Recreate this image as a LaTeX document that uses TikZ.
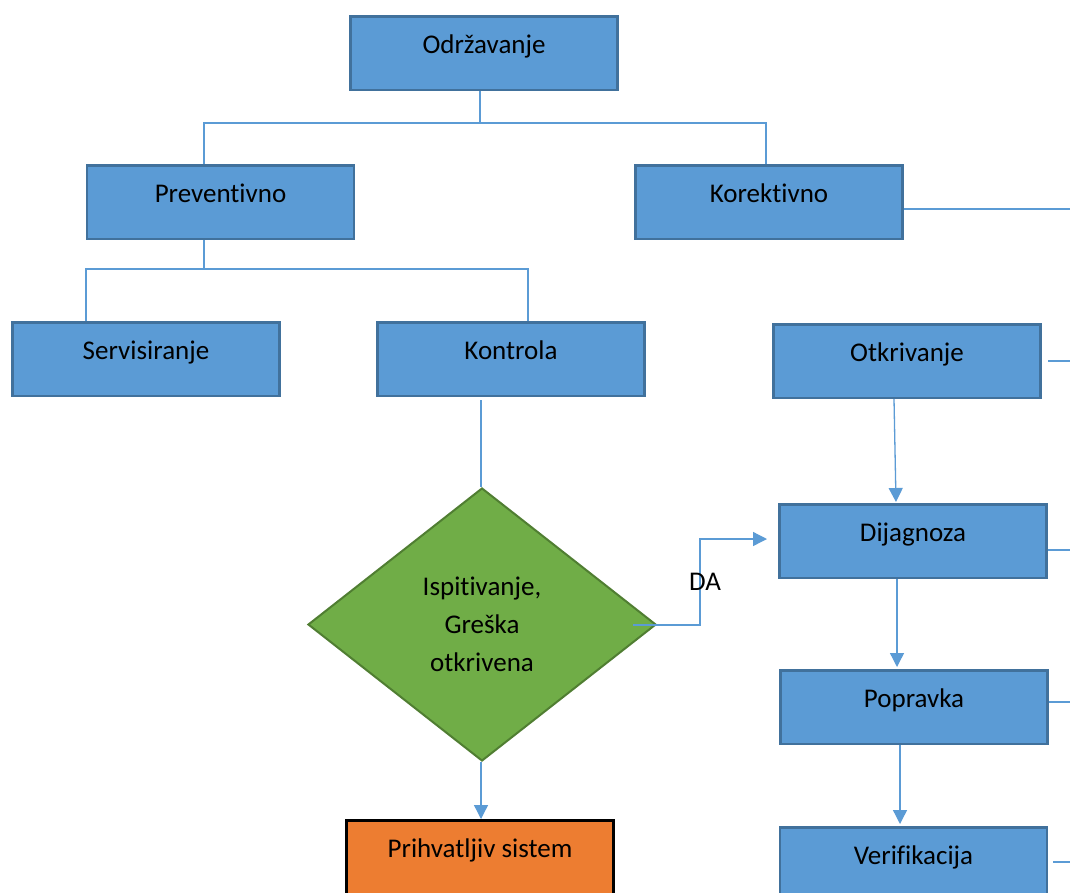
\documentclass[tikz,border=0pt]{standalone}
\usepackage{fontspec}
\setmainfont{Carlito}[RawFeature={-liga;-clig;-calt;-dlig}]
\usetikzlibrary{shapes.geometric,arrows.meta}
\definecolor{boxfill}{HTML}{5B9BD5}
\definecolor{boxedge}{HTML}{41719C}
\definecolor{linkcol}{HTML}{5B9BD5}
\definecolor{decfill}{HTML}{70AD47}
\definecolor{decedge}{HTML}{507E32}
\definecolor{okfill}{HTML}{ED7D31}
\begin{document}
\begin{tikzpicture}[x=1pt,y=-1pt,
  box/.style={rectangle, draw=boxedge, fill=boxfill, line width=2.5pt,
    minimum width=267pt, inner xsep=0pt, inner ysep=0pt,
    text height=37pt, text depth=36.5pt, anchor=north,
    font=\fontsize{27}{32}\selectfont},
  okbox/.style={box, draw=black, fill=okfill},
  decision/.style={diamond, draw=decedge, fill=decfill, line width=2pt,
    minimum width=348pt, minimum height=273pt, inner sep=0pt, align=center,
    font=\fontsize{27}{38}\selectfont},
  link/.style={draw=linkcol, line width=1.3pt},
  arrowlink/.style={link, -{Triangle[length=14pt,width=14pt]}},
  lbl/.style={font=\fontsize{27}{32}\selectfont, inner sep=0pt}]

\fill[white] (0,0) rectangle (1070,892);
\useasboundingbox (0,0) rectangle (1070,892);
\clip (0,0) rectangle (1070,892);

% boxes
\node[box] (odr)  at (484,15)   {Održavanje};
\node[box] (prev) at (220.5,164) {Preventivno};
\node[box] (kor)  at (769,164)  {Korektivno};
\node[box] (serv) at (146,321)  {Servisiranje};
\node[box] (kon)  at (511,321)  {Kontrola};
\node[box] (otk)  at (907,323)  {Otkrivanje};
\node[box] (dij)  at (913,503)  {Dijagnoza};
\node[box] (pop)  at (914,669)  {Popravka};
\node[box] (ver)  at (913.5,826) {Verifikacija};
\node[okbox] (prih) at (480,819) {Prihvatljiv sistem};
\node[decision] (isp) at (482,624.5) {Ispitivanje,\\Greška\\otkrivena};

% junction and edge points
\coordinate (j1) at (480,123);
\coordinate (bl) at (204,123);
\coordinate (br) at (766,123);
\coordinate (j2) at (204,269);
\coordinate (cl) at (86,269);
\coordinate (cr) at (528,269);
\coordinate (korend) at (1072,209);
\coordinate (otkend) at (1072,361);
\coordinate (dijend) at (1072,550);
\coordinate (popend) at (1072,702);
\coordinate (verend) at (1072,862);
\coordinate (kd) at (481,400);
\coordinate (dastart) at (633,625);
\coordinate (dabend) at (700,625);
\coordinate (datop) at (700,539);
\coordinate (datip) at (767,539);

% tree from Održavanje
\draw[link] (j1 |- odr.south) -- (j1);
\draw[link] (bl |- prev.north) -- (bl) -- (br) -- (br |- kor.north);

% tree from Preventivno
\draw[link] (j2 |- prev.south) -- (j2);
\draw[link] (cl |- serv.north) -- (cl) -- (cr) -- (cr |- kon.north);

% side lines on the right
\draw[link] (kor.east |- korend) -- (korend);
\draw[link] (1048,361) -- (otkend);
\draw[link] (dij.east |- dijend) -- (dijend);
\draw[link] (pop.east |- popend) -- (popend);
\draw[link] (1053,862) -- (verend);

% Kontrola to the decision
\draw[link] (kd) -- (kd |- isp.north);

% DA branch
\draw[arrowlink] (dastart) -- (dabend) -- (datop) -- (datip);
\node[lbl] (da) at (705,582) {DA};

% corrective chain
\draw[arrowlink] (894,399) -- (896,502);
\draw[arrowlink] (897,579) -- (897,667);
\draw[arrowlink] (900,745) -- (900,824);

% decision to the accepted system
\draw[arrowlink] (kd |- isp.south) -- (kd |- prih.north);
\end{tikzpicture}
\end{document}
